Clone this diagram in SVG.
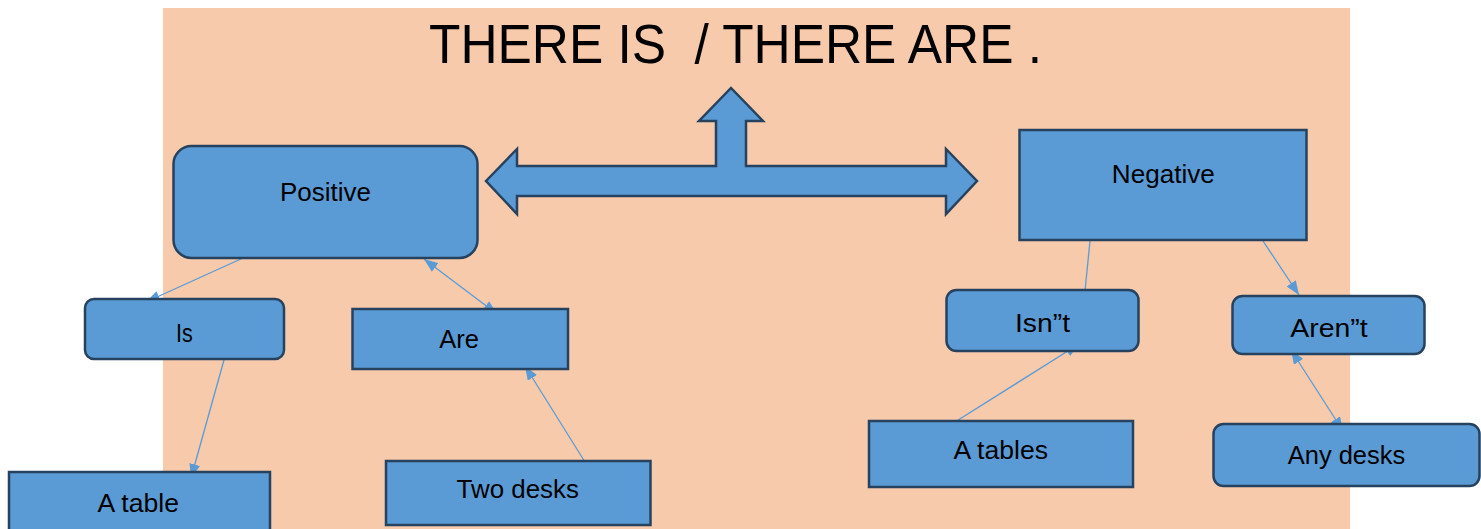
<svg xmlns="http://www.w3.org/2000/svg" width="1481" height="529" viewBox="0 0 1481 529">
<style>
.bg{fill:#f7caac}
.node{fill:#5b9bd5;stroke:#26425e;stroke-width:2.5}
.lbl{font-family:"Liberation Sans",Arial,sans-serif;font-size:25px;fill:#000;text-anchor:middle}
.title{font-family:"Liberation Sans",Arial,sans-serif;font-size:56px;fill:#000;white-space:pre}
.conn{stroke:#5b9bd5;stroke-width:1.3;fill:none}
</style>
<defs>
<marker id="ah" markerUnits="userSpaceOnUse" markerWidth="14" markerHeight="11" refX="14" refY="5.5" orient="auto-start-reverse">
<path d="M0,0 L14,5.5 L0,11 z" fill="#5b9bd5"/>
</marker>
</defs>
<rect class="bg" x="163" y="8" width="1187" height="521"/>
<text class="title" x="429" y="63" textLength="613" lengthAdjust="spacingAndGlyphs" xml:space="preserve">THERE IS  / THERE ARE .</text>
<g id="big-arrow">
<polygon class="node" points="486,181 517,149 517,166 716,166 716,121 699,121 731,88 763,121 746,121 746,166 946,166 946,149 977,181 946,214 946,196 517,196 517,214"/>
</g>
<g id="connectors">
<line class="conn" x1="243" y1="258" x2="146" y2="302" marker-end="url(#ah)"/>
<line class="conn" x1="497" y1="314" x2="424" y2="259" marker-start="url(#ah)" marker-end="url(#ah)"/>
<line class="conn" x1="224" y1="360" x2="191" y2="478" marker-end="url(#ah)"/>
<line class="conn" x1="585" y1="462" x2="525" y2="366" marker-end="url(#ah)"/>
<line class="conn" x1="1090" y1="241" x2="1085" y2="291"/>
<line class="conn" x1="1263" y1="241" x2="1299" y2="295" marker-end="url(#ah)"/>
<line class="conn" x1="955" y1="422" x2="1079" y2="344" marker-end="url(#ah)"/>
<line class="conn" x1="1343" y1="431" x2="1291" y2="350" marker-start="url(#ah)" marker-end="url(#ah)"/>
</g>
<g id="positive">
<rect class="node" x="173.5" y="146" width="304" height="112" rx="18"/>
<text class="lbl" x="325.5" y="200.7" textLength="91" lengthAdjust="spacingAndGlyphs">Positive</text>
</g>
<g id="negative">
<rect class="node" x="1019.5" y="130" width="287" height="110"/>
<text class="lbl" x="1163.3" y="183.3" textLength="103" lengthAdjust="spacingAndGlyphs">Negative</text>
</g>
<g id="is">
<rect class="node" x="85" y="299" width="199" height="60" rx="9"/>
<text class="lbl" x="184.3" y="341.7" textLength="16.7" lengthAdjust="spacingAndGlyphs">Is</text>
</g>
<g id="are">
<rect class="node" x="352.5" y="309" width="215.5" height="60"/>
<text class="lbl" x="459.2" y="347.7" textLength="39.7" lengthAdjust="spacingAndGlyphs">Are</text>
</g>
<g id="isnt">
<rect class="node" x="946.5" y="290" width="192" height="61" rx="10"/>
<text class="lbl" x="1042.5" y="332" textLength="55" lengthAdjust="spacingAndGlyphs">Isn”t</text>
</g>
<g id="arent">
<rect class="node" x="1232.5" y="296" width="192" height="58" rx="10"/>
<text class="lbl" x="1329" y="337.3" textLength="77.5" lengthAdjust="spacingAndGlyphs">Aren”t</text>
</g>
<g id="a-table">
<rect class="node" x="9" y="472" width="261" height="70"/>
<text class="lbl" x="138.3" y="511.7" textLength="81.4" lengthAdjust="spacingAndGlyphs">A table</text>
</g>
<g id="two-desks">
<rect class="node" x="386" y="461" width="264.5" height="64"/>
<text class="lbl" x="517.8" y="498.3" textLength="122.4" lengthAdjust="spacingAndGlyphs">Two desks</text>
</g>
<g id="a-tables">
<rect class="node" x="869" y="421" width="264" height="66"/>
<text class="lbl" x="1000.7" y="459.3" textLength="94.6" lengthAdjust="spacingAndGlyphs">A tables</text>
</g>
<g id="any-desks">
<rect class="node" x="1213.5" y="424" width="266" height="62" rx="10"/>
<text class="lbl" x="1346.5" y="464" textLength="117.5" lengthAdjust="spacingAndGlyphs">Any desks</text>
</g>
</svg>
